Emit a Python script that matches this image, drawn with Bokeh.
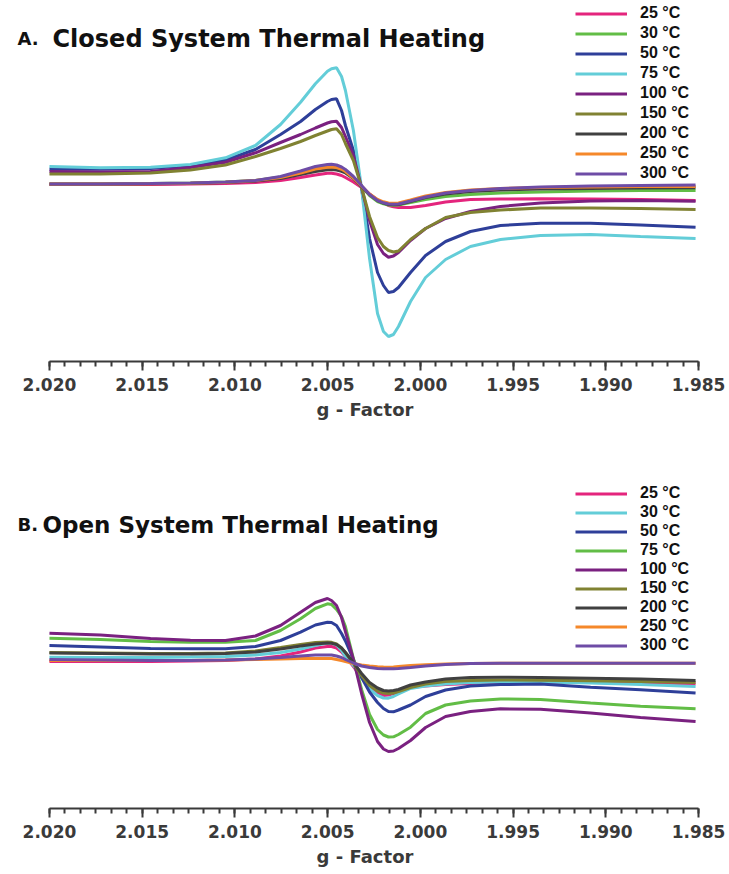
from bokeh.plotting import figure
from bokeh.layouts import column
from bokeh.models import (Range1d, SingleIntervalTicker, PrintfTickFormatter,
                          Legend, LegendItem, Label)
from bokeh.embed import file_html
from bokeh.resources import INLINE

# ---------------- data ----------------
g_factor = [2.02000, 2.01725, 2.01455, 2.01240, 2.01051, 2.00889, 2.00754,
            2.00646, 2.00566, 2.00501, 2.00479, 2.00452, 2.00425, 2.00404,
            2.00361, 2.00317, 2.00274, 2.00231, 2.00199, 2.00172, 2.00145,
            2.00118, 2.00053, 1.99972, 1.99864, 1.99730, 1.99568, 1.99352,
            1.99082, 1.98813, 1.98516]

temperatures = ["25 °C", "30 °C", "50 °C", "75 °C", "100 °C",
                "150 °C", "200 °C", "250 °C", "300 °C"]

# Panel A: closed system (intensity, arbitrary units)
closed_25 = [1, 1, 1, 1.5, 2, 3, 5, 8, 10.5, 12.3, 12.3, 11.5, 10, 8, 3.5, -2, -8.5,
             -14.5, -17.5, -20, -21.2, -22, -22, -20, -16.5, -14, -13.5, -13.3, -13.5,
             -14, -15]
closed_30 = [1.5, 1.5, 2, 2.5, 3.5, 5, 8.5, 13.5, 17.5, 19.5, 19.7, 19, 17.3, 15, 8, -1,
             -10, -16, -18.3, -19.5, -19.8, -19.5, -17, -14, -11, -9, -7.5, -6.5, -5.5,
             -5, -5]
closed_50 = [16.3, 16.3, 17, 20, 25.5, 36, 51, 64, 76, 84, 86, 86.7, 75, 60, 35, -3,
             -53, -87, -100, -107, -106, -102, -87, -70, -56, -46, -40, -37.7, -37.7,
             -39.5, -41.7]
closed_75 = [19, 17.7, 18.3, 21, 27.7, 40, 61, 83.3, 101.7, 114.3, 116.8, 117.7, 109,
             95, 55, -3, -73, -128, -146, -151, -149, -141, -116, -92, -74, -61, -54,
             -50, -49, -51, -53]
closed_100 = [14, 13.5, 14, 18, 23.3, 32.7, 43, 51, 57.5, 62.5, 63.8, 64.3, 58, 49, 30,
              -2, -35, -59, -68, -71.7, -70.5, -67, -55, -43, -33, -26, -21, -17.5,
              -15.5, -15, -15.7]
closed_150 = [11.5, 11.5, 12.5, 15.5, 20.5, 29, 37, 44, 50, 54.5, 56, 56.7, 51, 42, 25,
              -2, -31, -52, -61, -65, -66.5, -65.5, -54, -43, -32, -27, -24.5, -22.5,
              -22.5, -23, -24]
closed_200 = [1.5, 1.5, 1.7, 2, 3, 4.5, 7, 11, 14, 15.7, 15.9, 15.5, 14.2, 12.5, 7, -1,
              -9, -15, -17.5, -19, -19.3, -19, -16, -12, -8.5, -6, -4.5, -3.5, -3, -2.5,
              -2.3]
closed_250 = [1.5, 1.5, 1.7, 2.2, 3.2, 5, 8, 12.5, 16.5, 18.3, 18.5, 18, 16.2, 14, 7.5,
              -0.5, -8.5, -14, -16.3, -17.5, -17.8, -17.5, -14.5, -10.5, -7, -4.5, -3,
              -2, -1.5, -1, -1]
closed_300 = [1.5, 1.5, 2, 2.5, 3.5, 5, 9, 14.5, 19, 21, 21.2, 20.5, 18.5, 16, 9, 0,
              -9, -15, -17.3, -18.5, -18.8, -18.5, -15.5, -11.5, -7.5, -5, -3, -1.5,
              -0.5, 0, 0.5]

# Panel B: open system (intensity, arbitrary units)
open_25 = [1, 1, 1, 1.5, 2, 3.5, 6.5, 10.5, 14.5, 16, 16, 14.5, 10.5, 6, -4, -15, -24,
           -30, -33, -32.5, -31, -29, -25, -23.5, -22, -21, -20, -19.7, -20, -20.5,
           -21.3]
open_30 = [5.3, 5, 5, 5.5, 6, 7.5, 10, 13.5, 17, 19.5, 19.5, 17.5, 12, 6, -3, -15,
           -26.5, -33, -35.5, -35.7, -34, -31.5, -26, -23.5, -21.5, -20, -19.5, -19.5,
           -20.5, -22, -24]
open_50 = [17, 15.5, 14, 13.7, 13.7, 16, 22, 30.3, 37.5, 40.3, 40, 37, 29, 21.5, 3,
           -15, -29.5, -40, -46, -49, -49.3, -47.5, -42.5, -34, -27.5, -23.5, -22,
           -21.5, -24.7, -27.3, -30.5]
open_75 = [24.3, 23, 21, 20.3, 20.3, 22, 32, 43.7, 54, 58.7, 58, 53, 46, 36, 4, -27,
           -52, -67, -72.5, -74.5, -74.3, -72, -64.7, -51, -42.5, -38.5, -36.5, -37,
           -40.5, -43.7, -46.3]
open_100 = [29.3, 27.5, 24, 22.3, 22, 26.5, 37, 50.3, 60, 64, 62, 57, 45, 31, 3, -31,
            -60, -79, -86.5, -89, -88.5, -86, -78, -65, -54, -49, -46.3, -46.8, -50.5,
            -55, -59]
open_150 = [10, 9.5, 9, 9, 9.5, 11.5, 15, 18, 20, 20.5, 20.2, 18.5, 14.5, 10, -1, -13,
            -23, -28.5, -30.5, -31, -30.5, -29, -25, -21.5, -19, -18, -17.5, -17.7,
            -18.3, -19, -20]
open_200 = [9.5, 9, 8.5, 8.5, 9, 10.5, 13.5, 16.5, 18.5, 19.5, 19.3, 18, 14.5, 10, 0,
            -11, -20, -25.5, -28, -28.5, -28, -27, -22.5, -19.5, -16.5, -15, -14.7, -15,
            -15.7, -16.5, -18]
open_250 = [2, 2, 2, 2, 2.5, 3, 3.5, 4, 4, 4, 4, 3, 2, 1, -1, -2.5, -3.5, -4.3, -4.6,
            -4.7, -4.5, -4, -3, -2.3, -1.5, -1, -0.7, -0.7, -0.7, -0.7, -0.7]
open_300 = [3, 2.5, 2, 2, 2.5, 3.5, 5, 6.5, 7.5, 7.5, 7.5, 6.5, 5, 3, -0.5, -3.5, -5,
            -6, -6.2, -6.3, -6.2, -6, -5, -3.5, -2, -1, -0.7, -0.7, -0.7, -0.7, -0.7]

colors_closed = ["#e4257d", "#62bd46", "#2e3f99", "#63cdd8", "#7a2180",
                 "#808232", "#404040", "#f5882a", "#6e4ca6"]
colors_open = ["#e4257d", "#63cdd8", "#2e3f99", "#62bd46", "#7a2180",
               "#808232", "#404040", "#f5882a", "#6e4ca6"]

closed_series = [closed_25, closed_30, closed_50, closed_75, closed_100,
                 closed_150, closed_200, closed_250, closed_300]
open_series = [open_25, open_30, open_50, open_75, open_100,
               open_150, open_200, open_250, open_300]

FONT = "DejaVu Sans"
AXIS_COLOR = "#3a3a3a"


def make_panel(series, colors, letter, title, title_x, height, border_top,
               border_bottom, y_lo, y_hi, legend_y, legend_spacing, title_y,
               title_size):
    p = figure(width=729, height=height, output_backend="svg",
               toolbar_location=None, y_axis_location=None,
               x_range=Range1d(2.02264, 1.98333), y_range=Range1d(y_lo, y_hi),
               min_border_left=0, min_border_right=0,
               min_border_top=border_top, min_border_bottom=border_bottom)
    p.outline_line_color = None
    p.xgrid.visible = False
    p.ygrid.visible = False
    p.background_fill_color = "white"

    items = []
    for name, ys, c in zip(temperatures, series, colors):
        r = p.line(g_factor, ys, line_color=c, line_width=3)
        items.append(LegendItem(label=name, renderers=[r]))

    ax = p.xaxis[0]
    ax.bounds = (1.98499, 2.02001)
    ax.ticker = SingleIntervalTicker(interval=0.005, num_minor_ticks=6)
    ax.formatter = PrintfTickFormatter(format="%.3f")
    ax.axis_label = "g - Factor"
    ax.axis_label_text_font = FONT
    ax.axis_label_text_font_style = "bold"
    ax.axis_label_text_font_size = "18px"
    ax.axis_label_text_color = AXIS_COLOR
    ax.axis_label_standoff = 5
    ax.major_label_text_font = FONT
    ax.major_label_text_font_style = "bold"
    ax.major_label_text_font_size = "17px"
    ax.major_label_text_color = AXIS_COLOR
    ax.major_label_standoff = 7
    ax.axis_line_width = 2
    ax.axis_line_color = AXIS_COLOR
    ax.major_tick_line_width = 2
    ax.major_tick_line_color = AXIS_COLOR
    ax.minor_tick_line_width = 2
    ax.minor_tick_line_color = AXIS_COLOR
    ax.major_tick_in = 0
    ax.major_tick_out = 9
    ax.minor_tick_in = 0
    ax.minor_tick_out = 5

    legend = Legend(items=items, location=(575, legend_y),
                    glyph_width=52, glyph_height=17, label_height=17,
                    label_standoff=13, spacing=legend_spacing, padding=0, margin=0,
                    label_text_font="Liberation Sans", label_text_font_style="bold",
                    label_text_font_size="16px", label_text_color="#111111",
                    background_fill_alpha=0, border_line_alpha=0)
    p.add_layout(legend)

    p.add_layout(Label(x=17, y=title_y, x_units="screen", y_units="screen",
                       text=letter, text_font=FONT, text_font_style="bold",
                       text_font_size="18px", text_color="#111111",
                       text_baseline="middle"))
    p.add_layout(Label(x=title_x, y=title_y, x_units="screen", y_units="screen",
                       text=title, text_font=FONT, text_font_style="bold",
                       text_font_size=title_size, text_color="#111111",
                       text_baseline="middle"))
    return p


pA = make_panel(closed_series, colors_closed, "A.", "Closed System Thermal Heating",
                title_x=52, height=438, border_top=0, border_bottom=77,
                y_lo=-176, y_hi=185, legend_y=179, legend_spacing=2,
                title_y=323, title_size="24px")
pB = make_panel(open_series, colors_open, "B.", "Open System Thermal Heating",
                title_x=42, height=434, border_top=42, border_bottom=64,
                y_lo=-146, y_hi=182, legend_y=154, legend_spacing=1,
                title_y=284, title_size="23px")

layout = column(pA, pB, spacing=0)
open("out.html", "w").write(file_html(layout, INLINE))
